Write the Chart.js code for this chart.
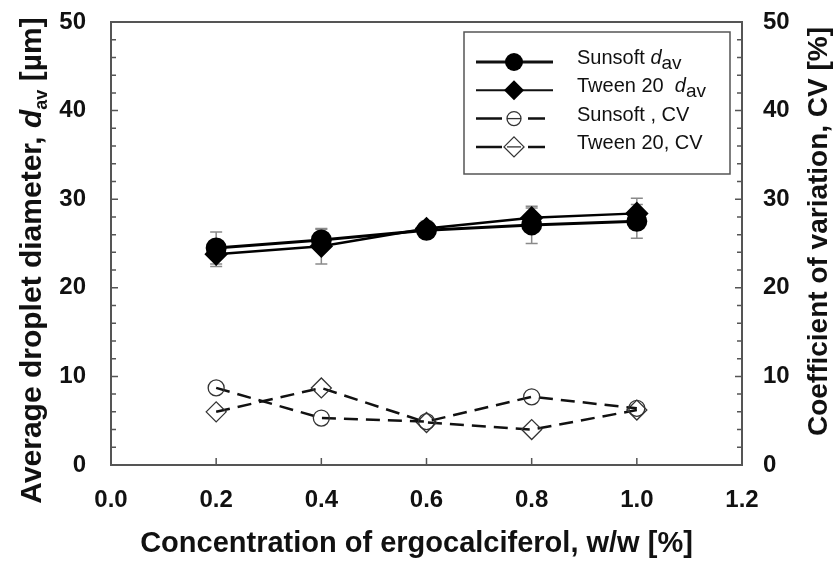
<!DOCTYPE html>
<html>
<head>
<meta charset="utf-8">
<script src="https://cdn.jsdelivr.net/npm/chart.js@4.4.1/dist/chart.umd.min.js"></script>
<style>
  html, body { margin: 0; padding: 0; background: #fff; }
  #wrap { width: 839px; height: 563px; position: relative; }
</style>
</head>
<body>
<div id="wrap"><canvas id="chart"></canvas></div>
<script>
// ==================== DATA ====================
const concentration = [0.2, 0.4, 0.6, 0.8, 1.0];

const sunsoftDav = [24.5, 25.4, 26.5, 27.1, 27.5];
const sunsoftDavErr = [1.8, 1.2, 0.8, 2.1, 1.9];
const tweenDav = [23.8, 24.7, 26.7, 27.9, 28.4];
const tweenDavErr = [1.4, 2.0, 0.8, 1.1, 1.7];

const sunsoftCV = [8.7, 5.3, 4.9, 7.7, 6.4];
const tweenCV = [6.0, 8.7, 4.8, 4.0, 6.2];

const xMin = 0, xMax = 1.2, xStep = 0.2;
const yMin = 0, yMax = 50, yStep = 10, yMinorStep = 2;

const xTitle = 'Concentration of ergocalciferol, w/w [%]';
const y2Title = 'Coefficient of variation, CV [%]';

const FONT = "'Liberation Sans', Arial, sans-serif";

function toPoints(xs, ys) {
  return xs.map((x, i) => ({ x: x, y: ys[i] }));
}

// draw text made of parts (for subscripts), centred on 0,0 in current transform
function drawParts(ctx, parts) {
  let total = 0;
  parts.forEach(p => { ctx.font = p.f; total += ctx.measureText(p.t).width; });
  let cx = -total / 2;
  ctx.textAlign = 'left';
  ctx.textBaseline = 'middle';
  parts.forEach(p => {
    ctx.font = p.f;
    ctx.fillText(p.t, cx, p.dy);
    cx += ctx.measureText(p.t).width;
  });
}

// error bars, inward ticks, frame, axis titles
const decorPlugin = {
  id: 'decor',
  beforeDatasetsDraw(chart) {
    const ctx = chart.ctx;
    const yScale = chart.scales.y;
    ctx.save();
    ctx.strokeStyle = '#8a8a8a';
    ctx.lineWidth = 1.5;
    chart.data.datasets.forEach((ds, di) => {
      if (!ds.errors) return;
      const meta = chart.getDatasetMeta(di);
      meta.data.forEach((pt, i) => {
        const v = ds.data[i].y;
        const e = ds.errors[i];
        const top = yScale.getPixelForValue(v + e);
        const bot = yScale.getPixelForValue(v - e);
        ctx.beginPath();
        ctx.moveTo(pt.x, top); ctx.lineTo(pt.x, bot);
        ctx.moveTo(pt.x - 6, top); ctx.lineTo(pt.x + 6, top);
        ctx.moveTo(pt.x - 6, bot); ctx.lineTo(pt.x + 6, bot);
        ctx.stroke();
      });
    });
    ctx.restore();
  },
  afterDraw(chart) {
    const ctx = chart.ctx;
    const a = chart.chartArea;
    const xs = chart.scales.x, ys = chart.scales.y, ys2 = chart.scales.y2;
    ctx.save();
    ctx.strokeStyle = '#555';
    ctx.lineWidth = 1.5;
    // y minor/major ticks (inward)
    for (let v = yMin; v <= yMax; v += yMinorStep) {
      const len = (v % yStep === 0) ? 7 : 5;
      const py = ys.getPixelForValue(v);
      const py2 = ys2.getPixelForValue(v);
      ctx.beginPath();
      ctx.moveTo(a.left, py); ctx.lineTo(a.left + len, py);
      ctx.moveTo(a.right, py2); ctx.lineTo(a.right - len, py2);
      ctx.stroke();
    }
    for (let k = 0; k * xStep <= xMax + 1e-9; k++) {
      const px = xs.getPixelForValue(k * xStep);
      ctx.beginPath();
      ctx.moveTo(px, a.bottom); ctx.lineTo(px, a.bottom - 7);
      ctx.stroke();
    }
    // frame
    ctx.lineWidth = 2;
    ctx.strokeRect(a.left, a.top, a.right - a.left, a.bottom - a.top);
    ctx.restore();

    // left axis title with subscript
    ctx.save();
    ctx.fillStyle = '#111';
    ctx.translate(33, (a.top + a.bottom) / 2 + 17);
    ctx.rotate(-Math.PI / 2);
    drawParts(ctx, [
      { t: 'Average droplet diameter, ', f: 'bold 30px ' + FONT, dy: 0 },
      { t: 'd', f: 'italic bold 30px ' + FONT, dy: 0 },
      { t: 'av', f: 'bold 18px ' + FONT, dy: 9 },
      { t: ' [\u00b5m]', f: 'bold 30px ' + FONT, dy: 0 }
    ]);
    ctx.restore();

    // right axis title, reading bottom to top
    ctx.save();
    ctx.fillStyle = '#111';
    ctx.translate(819, (a.top + a.bottom) / 2 - 12);
    ctx.rotate(-Math.PI / 2);
    drawParts(ctx, [{ t: y2Title, f: 'bold 28px ' + FONT, dy: 0 }]);
    ctx.restore();

    // x axis title
    ctx.save();
    ctx.fillStyle = '#111';
    ctx.translate((a.left + a.right) / 2 - 10, a.bottom + 79);
    drawParts(ctx, [{ t: xTitle, f: 'bold 29px ' + FONT, dy: 0 }]);
    ctx.restore();

    drawLegend(chart);
  }
};

function drawLegend(chart) {
  const ctx = chart.ctx;
  const a = chart.chartArea;
  const bx = a.left + 353, by = a.top + 10, bw = 266, bh = 142;
  ctx.save();
  ctx.fillStyle = '#fff';
  ctx.fillRect(bx, by, bw, bh);
  ctx.strokeStyle = '#555';
  ctx.lineWidth = 1.5;
  ctx.strokeRect(bx, by, bw, bh);

  const rows = [
    { name: 'Sunsoft ', sub: true, dash: false, lw: 3, shape: 'circle', fill: true },
    { name: 'Tween 20  ', sub: true, dash: false, lw: 2, shape: 'diamond', fill: true },
    { name: 'Sunsoft , CV', sub: false, dash: true, lw: 2.5, shape: 'circle', fill: false },
    { name: 'Tween 20, CV', sub: false, dash: true, lw: 2.5, shape: 'diamond', fill: false }
  ];
  rows.forEach((r, i) => {
    const y = by + 30 + i * 28.3;
    const x0 = bx + 12, x1 = bx + 89, mx = bx + 50;
    ctx.strokeStyle = '#111';
    ctx.lineWidth = r.lw;
    ctx.beginPath();
    if (r.dash) {
      ctx.moveTo(x0, y); ctx.lineTo(mx - 12, y);
      ctx.moveTo(mx + 14, y); ctx.lineTo(x1 - 8, y);
    } else {
      ctx.moveTo(x0, y); ctx.lineTo(x1, y);
    }
    ctx.stroke();
    // marker
    ctx.beginPath();
    if (r.shape === 'circle') {
      ctx.arc(mx, y, r.fill ? 9 : 7, 0, Math.PI * 2);
    } else {
      const s = 10;
      ctx.moveTo(mx, y - s); ctx.lineTo(mx + s, y); ctx.lineTo(mx, y + s); ctx.lineTo(mx - s, y); ctx.closePath();
    }
    if (r.fill) {
      ctx.fillStyle = '#000';
      ctx.fill();
    } else {
      ctx.fillStyle = '#fff';
      ctx.fill();
      ctx.lineWidth = 1.3;
      ctx.strokeStyle = '#333';
      ctx.stroke();
      ctx.beginPath();
      ctx.moveTo(mx - 7, y); ctx.lineTo(mx + 7, y);
      ctx.stroke();
    }
    // text
    ctx.fillStyle = '#111';
    ctx.textBaseline = 'alphabetic';
    ctx.textAlign = 'left';
    let tx = bx + 113;
    ctx.font = '20px ' + FONT;
    ctx.fillText(r.name, tx, y + 2);
    tx += ctx.measureText(r.name).width;
    if (r.sub) {
      ctx.font = 'italic 20px ' + FONT;
      ctx.fillText('d', tx, y + 2);
      tx += ctx.measureText('d').width;
      ctx.font = '19px ' + FONT;
      ctx.fillText('av', tx, y + 7);
    }
  });
  ctx.restore();
}

const tickFont = { family: FONT, size: 24, weight: 'bold' };

function fitVertical(width) {
  return s => { s.width = width; s.paddingTop = 0; s.paddingBottom = 0; };
}

new Chart(document.getElementById('chart'), {
  type: 'line',
  data: {
    datasets: [
      {
        label: 'Sunsoft dav',
        data: toPoints(concentration, sunsoftDav),
        errors: sunsoftDavErr,
        yAxisID: 'y',
        borderColor: '#000',
        borderWidth: 3,
        pointStyle: 'circle',
        pointRadius: 9,
        pointBackgroundColor: '#000',
        pointBorderColor: '#000',
        tension: 0
      },
      {
        label: 'Tween 20 dav',
        data: toPoints(concentration, tweenDav),
        errors: tweenDavErr,
        yAxisID: 'y',
        borderColor: '#000',
        borderWidth: 2.5,
        pointStyle: 'rectRot',
        pointRadius: 10,
        pointBackgroundColor: '#000',
        pointBorderColor: '#000',
        tension: 0
      },
      {
        label: 'Sunsoft , CV',
        data: toPoints(concentration, sunsoftCV),
        yAxisID: 'y2',
        borderColor: '#111',
        borderWidth: 2.5,
        borderDash: [14, 8],
        pointStyle: 'circle',
        pointRadius: 8,
        pointBorderWidth: 1.3,
        pointBackgroundColor: 'rgba(0,0,0,0)',
        pointBorderColor: '#333',
        tension: 0
      },
      {
        label: 'Tween 20, CV',
        data: toPoints(concentration, tweenCV),
        yAxisID: 'y2',
        borderColor: '#111',
        borderWidth: 2.5,
        borderDash: [14, 8],
        pointStyle: 'rectRot',
        pointRadius: 10,
        pointBorderWidth: 1.3,
        pointBackgroundColor: 'rgba(0,0,0,0)',
        pointBorderColor: '#333',
        tension: 0
      }
    ]
  },
  options: {
    responsive: true,
    maintainAspectRatio: false,
    animation: false,
    layout: { padding: { top: 22, left: 0, right: 0, bottom: 0 } },
    plugins: {
      legend: { display: false },
      tooltip: { enabled: false }
    },
    scales: {
      x: {
        type: 'linear',
        min: xMin,
        max: xMax,
        grid: { display: false },
        border: { display: false },
        ticks: {
          stepSize: xStep,
          color: '#111',
          font: tickFont,
          padding: 13,
          callback: v => Number(v).toFixed(1)
        },
        afterFit: s => { s.height = 98; s.paddingLeft = 0; s.paddingRight = 0; }
      },
      y: {
        position: 'left',
        min: yMin,
        max: yMax,
        grid: { display: false },
        border: { display: false },
        ticks: { stepSize: yStep, color: '#111', font: tickFont, padding: 17 },
        afterFit: fitVertical(111)
      },
      y2: {
        position: 'right',
        min: yMin,
        max: yMax,
        grid: { display: false },
        border: { display: false },
        ticks: { stepSize: yStep, color: '#111', font: tickFont, padding: 13 },
        afterFit: fitVertical(97)
      }
    }
  },
  plugins: [decorPlugin]
});
</script>
</body>
</html>
